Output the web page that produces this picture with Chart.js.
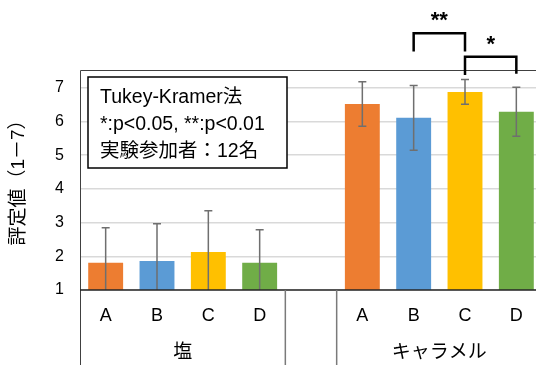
<!DOCTYPE html>
<html>
<head>
<meta charset="utf-8">
<script src="https://cdn.jsdelivr.net/npm/chart.js@4.4.1/dist/chart.umd.min.js"></script>
<style>
  html, body { margin: 0; padding: 0; overflow: hidden; background: #fff; }
  #wrap { width: 543px; height: 365px; }
</style>
</head>
<body>
<div id="wrap"><canvas id="chart"></canvas></div>
<script>
// data
const groups = ['塩', 'キャラメル'];
const conditions = ['A', 'B', 'C', 'D'];
const saltMeans = [1.81, 1.86, 2.13, 1.81];
const saltErrors = [1.04, 1.11, 1.22, 0.98];
const caramelMeans = [6.52, 6.11, 6.88, 6.29];
const caramelErrors = [0.66, 0.96, 0.37, 0.73];
const conditionColors = ['#ED7D31', '#5B9BD5', '#FFC000', '#70AD47'];
const yTicks = [1, 2, 3, 4, 5, 6, 7];
const yTitle = '評定値（1－7）';
const noteLines = ['Tukey-Kramer法', '*:p<0.05, **:p<0.01', '実験参加者：12名'];
// significance between caramel conditions (indices into conditions)
const sigPairs = [[1, 2], [2, 3]];
const sigMarks = ['**', '*'];

const FONT = '"Liberation Sans", "Noto Sans CJK JP", sans-serif';

// one slot per bar, an empty slot between the two groups
const labels = [...conditions, '', ...conditions];
const values = [...saltMeans, null, ...caramelMeans];
const errors = [...saltErrors, null, ...caramelErrors];
const colors = [...conditionColors, 'rgba(0,0,0,0)', ...conditionColors];
const caramelOffset = conditions.length + 1;

const decorations = {
  id: 'decorations',
  afterDatasetsDraw(chart) {
    const ctx = chart.ctx;
    const area = chart.chartArea;
    const x = chart.scales.x;
    const y = chart.scales.y;

    // error bars, clipped to the plot
    ctx.save();
    ctx.beginPath();
    ctx.rect(area.left, area.top, area.right - area.left, area.bottom - area.top);
    ctx.clip();
    ctx.strokeStyle = '#6f6f6f';
    ctx.lineWidth = 1.5;
    values.forEach((v, i) => {
      if (v === null) return;
      const px = x.getPixelForValue(i);
      const top = y.getPixelForValue(v + errors[i]);
      const bot = y.getPixelForValue(v - errors[i]);
      ctx.beginPath();
      ctx.moveTo(px, top); ctx.lineTo(px, bot);
      ctx.moveTo(px - 4, top); ctx.lineTo(px + 4, top);
      ctx.moveTo(px - 4, bot); ctx.lineTo(px + 4, bot);
      ctx.stroke();
    });
    ctx.restore();
  },
  afterDraw(chart) {
    const ctx = chart.ctx;
    const area = chart.chartArea;
    const x = chart.scales.x;
    const y = chart.scales.y;
    const H = chart.height;
    ctx.save();

    // plot frame: top, left, bottom axis
    ctx.strokeStyle = '#404040';
    ctx.lineWidth = 1;
    ctx.beginPath();
    ctx.moveTo(area.left + 0.5, H);
    ctx.lineTo(area.left + 0.5, area.top + 0.5);
    ctx.lineTo(chart.width, area.top + 0.5);
    ctx.stroke();
    ctx.strokeStyle = '#262626';
    ctx.lineWidth = 1.5;
    ctx.beginPath();
    ctx.moveTo(area.left, area.bottom);
    ctx.lineTo(chart.width, area.bottom);
    ctx.stroke();

    // group dividers around the empty slot
    const slot = (x.getPixelForValue(1) - x.getPixelForValue(0));
    const gapCenter = x.getPixelForValue(conditions.length);
    ctx.strokeStyle = '#7a7a7a';
    ctx.lineWidth = 1.5;
    [gapCenter - slot / 2, gapCenter + slot / 2].forEach(dx => {
      ctx.beginPath();
      ctx.moveTo(dx, area.bottom);
      ctx.lineTo(dx, H);
      ctx.stroke();
    });

    // category labels
    ctx.fillStyle = '#000';
    ctx.textAlign = 'center';
    ctx.textBaseline = 'middle';
    ctx.font = '18px ' + FONT;
    labels.forEach((l, i) => {
      if (l) ctx.fillText(l, x.getPixelForValue(i), area.bottom + 26);
    });
    ctx.font = '19px ' + FONT;
    const g0 = (x.getPixelForValue(0) + x.getPixelForValue(conditions.length - 1)) / 2;
    const g1 = (x.getPixelForValue(caramelOffset) + x.getPixelForValue(caramelOffset + conditions.length - 1)) / 2;
    ctx.fillText(groups[0], g0, area.bottom + 63);
    ctx.fillText(groups[1], g1, area.bottom + 63);

    // y title
    ctx.save();
    ctx.translate(19, (area.top + area.bottom) / 2 - 2);
    ctx.rotate(-Math.PI / 2);
    ctx.font = '19px ' + FONT;
    ctx.fillText(yTitle, 0, 0);
    ctx.restore();

    // note box
    const bx = area.left + 8, by = area.top + 7, bw = 199, bh = 91;
    ctx.fillStyle = '#fff';
    ctx.fillRect(bx, by, bw, bh);
    ctx.strokeStyle = '#000';
    ctx.lineWidth = 1.5;
    ctx.strokeRect(bx, by, bw, bh);
    ctx.fillStyle = '#000';
    ctx.textAlign = 'left';
    ctx.font = '19.5px ' + FONT;
    noteLines.forEach((t, i) => ctx.fillText(t, bx + 12, by + 21 + i * 27));

    // significance brackets (heights in axis units)
    const bracketTops = [8.62, 7.92];
    const bracketLegs = [[8.08, 8.08], [7.38, 7.42]];
    ctx.strokeStyle = '#000';
    ctx.lineWidth = 2.5;
    ctx.textAlign = 'center';
    ctx.font = 'bold 22px ' + FONT;
    sigPairs.forEach((p, k) => {
      const x1 = x.getPixelForValue(caramelOffset + p[0]);
      const x2 = x.getPixelForValue(caramelOffset + p[1]);
      const yt = y.getPixelForValue(bracketTops[k]);
      ctx.beginPath();
      ctx.moveTo(x1, y.getPixelForValue(bracketLegs[k][0]));
      ctx.lineTo(x1, yt);
      ctx.lineTo(x2, yt);
      ctx.lineTo(x2, y.getPixelForValue(bracketLegs[k][1]));
      ctx.stroke();
      ctx.fillText(sigMarks[k], (x1 + x2) / 2, yt - 12);
    });

    ctx.restore();
  }
};

new Chart(document.getElementById('chart'), {
  type: 'bar',
  data: {
    labels: labels,
    datasets: [{
      data: values,
      backgroundColor: colors,
      borderWidth: 0,
      barPercentage: 0.68,
      categoryPercentage: 1
    }]
  },
  options: {
    responsive: true,
    maintainAspectRatio: false,
    animation: false,
    layout: { padding: { top: 70, right: 1, left: 0, bottom: 0 } },
    plugins: {
      legend: { display: false },
      tooltip: { enabled: false }
    },
    scales: {
      x: {
        grid: { display: false },
        border: { display: false },
        ticks: { display: false },
        afterFit(scale) { scale.height = 75; }
      },
      y: {
        min: 1,
        max: 7.53,
        afterBuildTicks(scale) { scale.ticks = yTicks.map(v => ({ value: v })); },
        ticks: {
          padding: 16,
          color: '#000',
          font: { family: FONT, size: 16 }
        },
        grid: { color: '#d9d9d9', lineWidth: 1.5, drawTicks: false },
        border: { display: false },
        afterFit(scale) { scale.width = 80; }
      }
    }
  },
  plugins: [decorations]
});
</script>
</body>
</html>
